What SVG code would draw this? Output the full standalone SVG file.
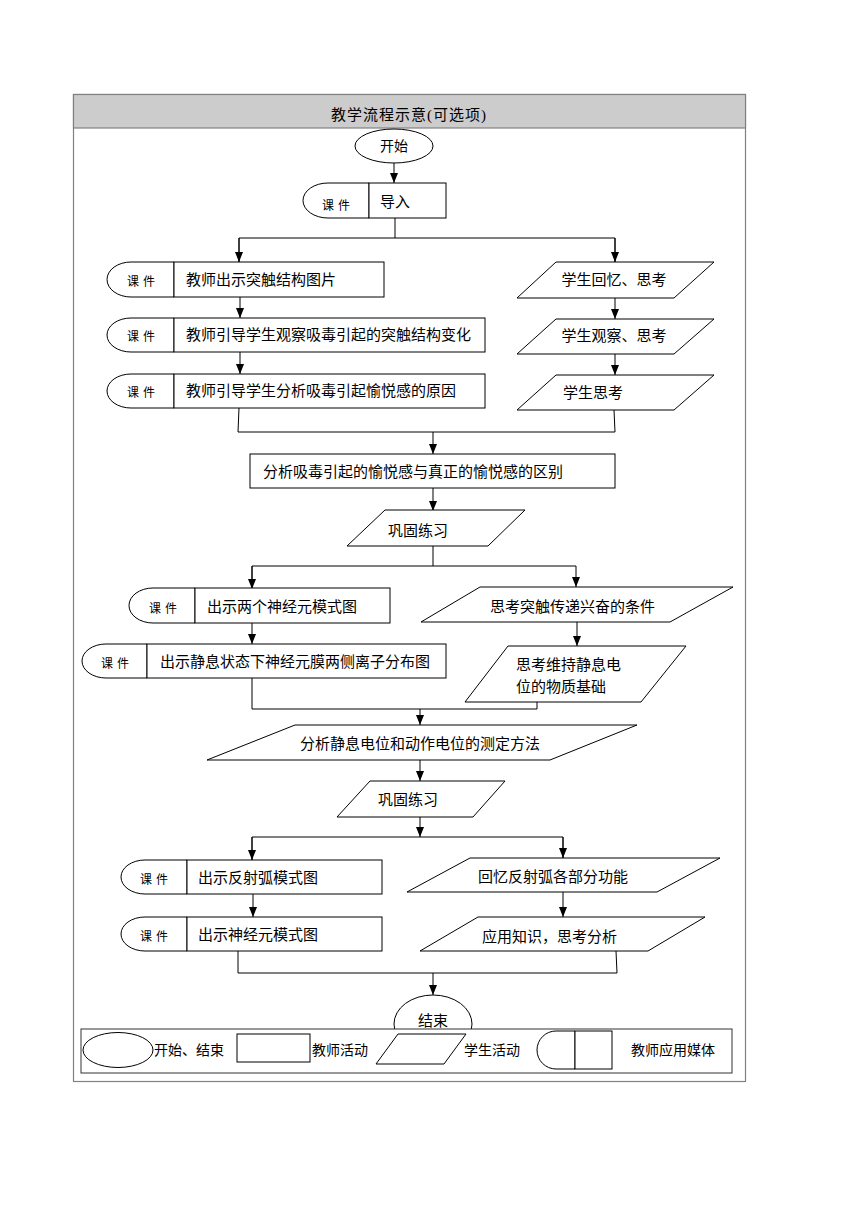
<svg xmlns="http://www.w3.org/2000/svg" width="860" height="1216" viewBox="0 0 860 1216">
<defs>
<style>
.s{fill:#fff;stroke:#000;stroke-width:1}
.c{fill:none;stroke:#000;stroke-width:1}
.t{font-family:"Liberation Serif","Noto Sans CJK SC",serif;font-size:15px;fill:#000}
.k{font-family:"Liberation Serif","Noto Sans CJK SC",serif;font-size:12px;letter-spacing:4px;fill:#000}
.m{text-anchor:middle}
</style>
<marker id="ah" viewBox="0 0 10 8" refX="10" refY="4" markerWidth="10" markerHeight="8" orient="auto" markerUnits="userSpaceOnUse"><path d="M0,0 L10,4 L0,8 z" fill="#000"/></marker>
</defs>
<rect width="860" height="1216" fill="#fff"/>
<g id="frame">
<rect x="73.5" y="94.5" width="672" height="987" fill="#fff" stroke="#808080" stroke-width="1.2"/>
<rect x="73.5" y="94.5" width="672" height="33.5" fill="#cccccc" stroke="#808080" stroke-width="1.2"/>
<text class="t m" x="409" y="120" style="letter-spacing:1px">教学流程示意(可选项)</text>
</g>
<g id="connectors">
<line class="c" x1="394" y1="163" x2="394" y2="183" marker-end="url(#ah)"/>
<polyline class="c" points="395,218 395,238"/>
<polyline class="c" points="239,262 239,238 615,238 615,262"/>
<line class="c" x1="239" y1="238" x2="239" y2="262" marker-end="url(#ah)"/>
<line class="c" x1="615" y1="238" x2="615" y2="262" marker-end="url(#ah)"/>
<line class="c" x1="240" y1="297" x2="240" y2="318" marker-end="url(#ah)"/>
<line class="c" x1="240" y1="352" x2="240" y2="374" marker-end="url(#ah)"/>
<line class="c" x1="615" y1="298" x2="615" y2="319" marker-end="url(#ah)"/>
<line class="c" x1="615" y1="354" x2="615" y2="375" marker-end="url(#ah)"/>
<polyline class="c" points="239,408 238,432 615,432 614,410"/>
<line class="c" x1="433" y1="432" x2="433" y2="454" marker-end="url(#ah)"/>
<line class="c" x1="433" y1="488" x2="433" y2="511" marker-end="url(#ah)"/>
<polyline class="c" points="433,546 433,566 252,566 252,589"/>
<polyline class="c" points="433,566 576,566"/>
<line class="c" x1="252" y1="566" x2="252" y2="589" marker-end="url(#ah)"/>
<line class="c" x1="576" y1="566" x2="576" y2="587" marker-end="url(#ah)"/>
<line class="c" x1="252" y1="623" x2="252" y2="644" marker-end="url(#ah)"/>
<line class="c" x1="577" y1="622" x2="577" y2="646" marker-end="url(#ah)"/>
<polyline class="c" points="252,678 252,709 537,709 537,702"/>
<line class="c" x1="420" y1="709" x2="420" y2="725" marker-end="url(#ah)"/>
<line class="c" x1="420" y1="760" x2="420" y2="781" marker-end="url(#ah)"/>
<line class="c" x1="420" y1="817" x2="420" y2="837" marker-end="url(#ah)"/>
<polyline class="c" points="252,860 252,837 563,837 563,858"/>
<line class="c" x1="252" y1="837" x2="252" y2="860" marker-end="url(#ah)"/>
<line class="c" x1="563" y1="837" x2="563" y2="858" marker-end="url(#ah)"/>
<line class="c" x1="253" y1="894" x2="253" y2="917" marker-end="url(#ah)"/>
<line class="c" x1="563" y1="892" x2="563" y2="917" marker-end="url(#ah)"/>
<polyline class="c" points="238,951 238,973 617,973 616,951"/>
<line class="c" x1="433" y1="973" x2="433" y2="995" marker-end="url(#ah)"/>
</g>
<g id="start">
<ellipse class="s" cx="394" cy="146" rx="39" ry="17"/>
<text class="t m" x="394" y="151" style="font-size:14px">开始</text>
</g>
<g id="intro">
<path class="s" d="M369,183 H328 A25,17.5 0 0 0 328,218 H369 Z"/>
<rect class="s" x="369" y="183" width="77" height="35"/>
<text class="k m" x="338" y="210">课件</text>
<text class="t" x="380" y="207">导入</text>
</g>
<g id="t1">
<path class="s" d="M174,262 H131 A24,17.5 0 0 0 131,297 H174 Z"/>
<rect class="s" x="174" y="262" width="210" height="35"/>
<text class="k m" x="143" y="286">课件</text>
<text class="t" x="186" y="285">教师出示突触结构图片</text>
</g>
<g id="t2">
<path class="s" d="M174,318 H131 A24,17 0 0 0 131,352 H174 Z"/>
<rect class="s" x="174" y="318" width="311" height="34"/>
<text class="k m" x="143" y="341">课件</text>
<text class="t" x="186" y="340">教师引导学生观察吸毒引起的突触结构变化</text>
</g>
<g id="t3">
<path class="s" d="M174,374 H131 A24,17 0 0 0 131,408 H174 Z"/>
<rect class="s" x="174" y="374" width="311" height="34"/>
<text class="k m" x="143" y="397">课件</text>
<text class="t" x="186" y="396">教师引导学生分析吸毒引起愉悦感的原因</text>
</g>
<g id="s1">
<polygon class="s" points="556,262 714,262 674,298 517,298"/>
<text class="t m" x="614" y="285">学生回忆、思考</text>
</g>
<g id="s2">
<polygon class="s" points="556,319 714,319 674,354 517,354"/>
<text class="t m" x="614" y="341">学生观察、思考</text>
</g>
<g id="s3">
<polygon class="s" points="556,375 714,375 674,410 517,410"/>
<text class="t" x="563" y="398">学生思考</text>
</g>
<g id="t4">
<rect class="s" x="250" y="454" width="365" height="34"/>
<text class="t" x="263" y="477">分析吸毒引起的愉悦感与真正的愉悦感的区别</text>
</g>
<g id="s4">
<polygon class="s" points="385,510 525,510 488,546 347,546"/>
<text class="t" x="388" y="536">巩固练习</text>
</g>
<g id="t5">
<path class="s" d="M195,588 H153 A24,17.5 0 0 0 153,623 H195 Z"/>
<rect class="s" x="195" y="588" width="195" height="35"/>
<text class="k m" x="165" y="613">课件</text>
<text class="t" x="207" y="612">出示两个神经元模式图</text>
</g>
<g id="t6">
<path class="s" d="M147,644 H106 A24,17 0 0 0 106,678 H147 Z"/>
<rect class="s" x="147" y="644" width="299" height="34"/>
<text class="k m" x="117" y="668">课件</text>
<text class="t" x="160" y="667">出示静息状态下神经元膜两侧离子分布图</text>
</g>
<g id="s5">
<polygon class="s" points="480,587 733,587 670,622 421,622"/>
<text class="t" x="490" y="612">思考突触传递兴奋的条件</text>
</g>
<g id="s6">
<polygon class="s" points="508,646 686,646 641,702 465,702"/>
<text class="t" x="516" y="670">思考维持静息电</text>
<text class="t" x="516" y="692">位的物质基础</text>
</g>
<g id="s7">
<polygon class="s" points="295,725 637,725 550,760 207,760"/>
<text class="t" x="300" y="749">分析静息电位和动作电位的测定方法</text>
</g>
<g id="s8">
<polygon class="s" points="370,781 505,781 473,817 337,817"/>
<text class="t" x="378" y="805">巩固练习</text>
</g>
<g id="t7">
<path class="s" d="M187,860 H145 A24,17 0 0 0 145,894 H187 Z"/>
<rect class="s" x="187" y="860" width="195" height="34"/>
<text class="k m" x="156" y="884">课件</text>
<text class="t" x="198" y="883">出示反射弧模式图</text>
</g>
<g id="t8">
<path class="s" d="M187,917 H145 A24,17 0 0 0 145,951 H187 Z"/>
<rect class="s" x="187" y="917" width="195" height="34"/>
<text class="k m" x="156" y="941">课件</text>
<text class="t" x="198" y="940">出示神经元模式图</text>
</g>
<g id="s9">
<polygon class="s" points="470,858 720,858 657,892 407,892"/>
<text class="t m" x="553" y="882">回忆反射弧各部分功能</text>
</g>
<g id="s10">
<polygon class="s" points="478,917 705,917 648,951 420,951"/>
<text class="t" x="482" y="942">应用知识，思考分析</text>
</g>
<g id="end">
<ellipse class="s" cx="433" cy="1024" rx="39" ry="29"/>
<text class="t m" x="433" y="1026">结束</text>
</g>
<g id="legend">
<rect x="81" y="1029" width="651" height="44" fill="#fff" stroke="#333" stroke-width="1"/>
<ellipse class="s" cx="118" cy="1050" rx="35" ry="17.5"/>
<text class="t" x="154" y="1055" style="font-size:14px">开始、结束</text>
<rect class="s" x="237" y="1034" width="73" height="28"/>
<text class="t" x="312" y="1055" style="font-size:14px">教师活动</text>
<polygon class="s" points="398,1034 466,1034 444,1064 376,1064"/>
<text class="t" x="464" y="1055" style="font-size:14px">学生活动</text>
<path class="s" d="M575,1031 H556 A19,19 0 0 0 556,1069 H575 Z"/>
<rect class="s" x="575" y="1031" width="37" height="38"/>
<text class="t" x="631" y="1055" style="font-size:14px">教师应用媒体</text>
</g>
</svg>
